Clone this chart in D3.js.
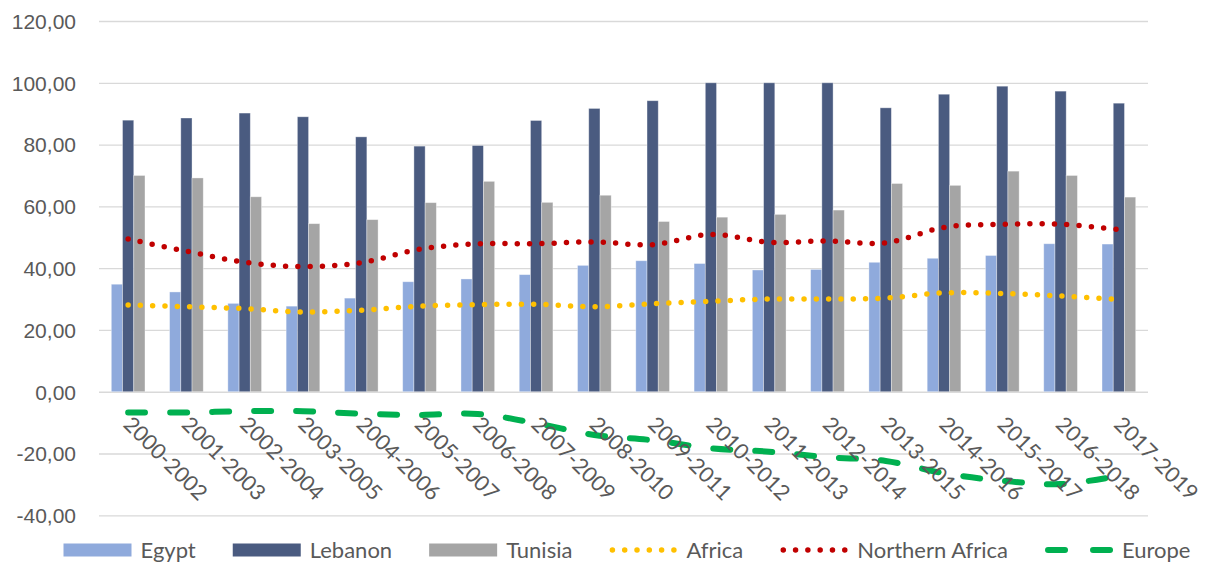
<!DOCTYPE html>
<html>
<head>
<meta charset="utf-8">
<script src="https://cdn.jsdelivr.net/npm/d3@7"></script>
<style>
  body { margin: 0; background: #fff; }
  svg { display: block; font-family: Lato, 'Open Sans', sans-serif; }
</style>
</head>
<body>
<svg></svg>
<script>
const categories = ['2000-2002', '2001-2003', '2002-2004', '2003-2005', '2004-2006', '2005-2007',
  '2006-2008', '2007-2009', '2008-2010', '2009-2011', '2010-2012', '2011-2013',
  '2012-2014', '2013-2015', '2014-2016', '2015-2017', '2016-2018', '2017-2019']

const egypt = [34.8, 32.3, 28.6, 27.7, 30.3, 35.6, 36.5, 37.9, 40.9, 42.4, 41.5, 39.4, 39.6, 41.9, 43.2, 44.1, 47.9, 47.8]
const lebanon = [87.9, 88.6, 90.2, 89.0, 82.5, 79.5, 79.7, 87.8, 91.7, 94.2, 100, 100, 100, 91.9, 96.3, 98.9, 97.3, 93.4]
const tunisia = [70.0, 69.2, 63.1, 54.4, 55.7, 61.2, 68.1, 61.3, 63.6, 55.1, 56.5, 57.4, 58.8, 67.4, 66.8, 71.4, 70.0, 63.0]
const africa = [28.1, 27.5, 26.9, 25.8, 26.4, 27.7, 28.2, 28.3, 27.5, 28.5, 29.3, 30.0, 30.0, 30.3, 32.0, 31.8, 31.0, 29.9]
const northernAfrica = [49.4, 45.5, 41.9, 40.5, 41.8, 46.1, 47.9, 47.9, 48.5, 47.6, 50.9, 48.4, 48.8, 48.2, 53.2, 54.2, 54.2, 52.5]
const europe = [-6.7, -6.7, -6.3, -6.3, -7.1, -7.5, -7.2, -10.2, -14.0, -15.7, -18.3, -19.4, -21.2, -22.4, -26.4, -28.8, -29.9, -27.2]

const yTicks = [-40, -20, 0, 20, 40, 60, 80, 100, 120]

const barSeries = [
  { name: 'Egypt', values: egypt, color: '#8faadc' },
  { name: 'Lebanon', values: lebanon, color: '#4a5b80' },
  { name: 'Tunisia', values: tunisia, color: '#a5a5a5' }
]
const lineSeries = [
  { name: 'Africa', values: africa, color: '#ffc000', dash: '0 12.3', width: 5.5 },
  { name: 'Northern Africa', values: northernAfrica, color: '#c00000', dash: '0 12.3', width: 5.5 },
  { name: 'Europe', values: europe, color: '#00b050', dash: '17 25', width: 6 }
]

let width = 1209
let height = 562
let left = 99
let right = 1148

let svg = d3.select('svg')
  .attr('width', width)
  .attr('height', height)

let fmt = d3.formatLocale({ decimal: ',', thousands: '.', grouping: [3], currency: ['', ''], minus: '-' }).format('.2f')

let yScale = d3.scaleLinear()
  .domain([-40, 120])
  .range([515.3, 21])

let xScale = d3.scaleBand()
  .domain(categories)
  .range([left, right])

// bars take ~58% of a category, like excel's gap width
let groupWidth = xScale.bandwidth() * 0.578
let innerScale = d3.scaleBand()
  .domain(barSeries.map(d => d.name))
  .range([0, groupWidth])

// gridlines + y labels
let yAxis = d3.axisLeft(yScale)
  .tickValues(yTicks)
  .tickSize(-(right - left))
  .tickPadding(23)
  .tickFormat(fmt)

svg.append('g')
    .attr('transform', `translate(${left}, 0)`)
    .call(yAxis)
    .call(g => g.select('.domain').remove())
    .call(g => g.selectAll('line').attr('stroke', '#d9d9d9').attr('stroke-width', 1.3))
    .call(g => g.selectAll('text')
      .attr('fill', '#595959')
      .style('font-size', '21px')
      .attr('dy', '0.35em'))

// bars
svg.append('g')
  .selectAll('g')
  .data(barSeries)
  .enter()
  .append('g')
    .attr('fill', d => d.color)
  .selectAll('rect')
  .data(d => d.values.map((v, i) => ({ name: d.name, cat: categories[i], v })))
  .enter()
  .append('rect')
    .attr('x', d => xScale(d.cat) + (xScale.bandwidth() - groupWidth) / 2 + innerScale(d.name))
    .attr('width', innerScale.bandwidth())
    .attr('y', d => yScale(Math.max(0, d.v)))
    .attr('height', d => Math.abs(yScale(d.v) - yScale(0)))
    .attr('stroke', '#ffffff')
    .attr('stroke-opacity', 0.45)
    .attr('stroke-width', 0.8)

// smoothed lines
let line = d3.line()
  .x((d, i) => xScale(categories[i]) + xScale.bandwidth() / 2)
  .y(d => yScale(d))
  .curve(d3.curveCatmullRom.alpha(0))

svg.append('g')
  .selectAll('path')
  .data(lineSeries)
  .enter()
  .append('path')
    .attr('d', d => line(d.values))
    .attr('fill', 'none')
    .attr('stroke', d => d.color)
    .attr('stroke-width', d => d.width)
    .attr('stroke-dasharray', d => d.dash)
    .attr('stroke-linecap', 'round')

// category labels, rotated 45 degrees
svg.append('g')
  .selectAll('text')
  .data(categories)
  .enter()
  .append('text')
    .attr('transform', d => `translate(${xScale(d) + xScale.bandwidth() / 2 - 6}, ${yScale(0) + 34}) rotate(45)`)
    .attr('fill', '#595959')
    .style('font-size', '21.5px')
    .text(d => d)

// legend
let legendItems = barSeries.map(d => ({ ...d, kind: 'bar' }))
  .concat(lineSeries.map(d => ({ ...d, kind: 'line' })))

let legend = svg.append('g')
let legendY = 550
let cursor = 0
legendItems.forEach(d => {
  let g = legend.append('g').attr('transform', `translate(${cursor}, 0)`)
  if (d.kind === 'bar') {
    g.append('rect')
      .attr('x', 0)
      .attr('y', legendY - 6.5)
      .attr('width', 68)
      .attr('height', 13)
      .attr('fill', d.color)
  } else {
    g.append('line')
      .attr('x1', 3)
      .attr('x2', 65)
      .attr('y1', legendY)
      .attr('y2', legendY)
      .attr('stroke', d.color)
      .attr('stroke-width', d.width)
      .attr('stroke-linecap', 'round')
      .attr('stroke-dasharray', d.name === 'Europe' ? '17 28' : '0 12.3')
  }
  let t = g.append('text')
    .attr('x', 77)
    .attr('y', legendY)
    .attr('dy', '0.35em')
    .attr('fill', '#595959')
    .style('font-size', '22px')
    .text(d.name)
  cursor += 77 + t.node().getComputedTextLength() + 37
})
cursor -= 37
legend.attr('transform', `translate(${627 - cursor / 2}, 0)`)
</script>
</body>
</html>
